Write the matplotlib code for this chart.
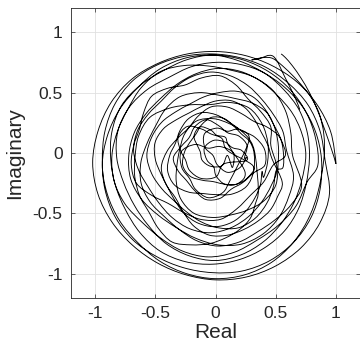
import numpy as np
import matplotlib

matplotlib.use("Agg")
import matplotlib.pyplot as plt
from matplotlib.patches import PathPatch
from matplotlib.path import Path

plt.rcParams["font.family"] = ["Liberation Sans", "DejaVu Sans"]

start_re = [0.545, 0.58, 0.64, 0.71, 0.78, 0.84, 0.89, 0.94, 0.98]
start_im = [0.82, 0.79, 0.72, 0.62, 0.50, 0.37, 0.24, 0.10, -0.02]

# each loop: centre (re, im) and radii sampled evenly counter-clockwise from angle 0
loop_centres = [
    (0.00, -0.08), (-0.03, -0.06), (-0.02, -0.05), (0.00, -0.04),
    (0.02, -0.02), (-0.04, 0.02), (-0.12, 0.06), (0.03, -0.02),
    (0.10, -0.12), (0.00, -0.05), (-0.05, -0.20),
    (-0.05, -0.02), (0.02, 0.00), (-0.12, 0.02), (0.08, -0.06),
    (-0.04, 0.06), (-0.06, -0.12), (0.10, 0.05), (-0.02, -0.04),
    (0.05, -0.10), (0.02, -0.08), (-0.06, -0.02), (0.00, -0.10),
]
loop_radii = [
    [1.00, 0.99, 0.97, 0.95, 0.93, 0.92, 0.92, 0.93, 0.95, 0.98, 1.00, 1.01,
     1.02, 1.01, 0.99, 0.97, 0.96, 0.96, 0.97, 0.98, 0.99, 1.00, 1.00, 0.98],
    [0.94, 0.93, 0.92, 0.90, 0.89, 0.88, 0.88, 0.89, 0.91, 0.93, 0.93, 0.92,
     0.91, 0.92, 0.93, 0.93, 0.92, 0.92, 0.93, 0.95, 0.96, 0.96, 0.95, 0.93],
    [0.90, 0.88, 0.86, 0.84, 0.83, 0.84, 0.86, 0.85, 0.84, 0.86, 0.88, 0.87,
     0.85, 0.84, 0.84, 0.86, 0.88, 0.88, 0.87, 0.86, 0.85, 0.84, 0.82, 0.80],
    [0.78, 0.79, 0.80, 0.80, 0.81, 0.80, 0.79, 0.78, 0.77, 0.80, 0.83, 0.84,
     0.82, 0.79, 0.78, 0.79, 0.82, 0.84, 0.85, 0.83, 0.80, 0.77, 0.75, 0.74],
    [0.73, 0.72, 0.71, 0.70, 0.71, 0.72, 0.72, 0.70, 0.68, 0.67, 0.69, 0.72,
     0.74, 0.75, 0.73, 0.70, 0.69, 0.71, 0.74, 0.76, 0.75, 0.72, 0.68, 0.65],
    [0.63, 0.62, 0.60, 0.60, 0.62, 0.64, 0.65, 0.63, 0.60, 0.58, 0.60, 0.63,
     0.64, 0.62, 0.60, 0.61, 0.64, 0.67, 0.68, 0.66, 0.63, 0.60, 0.58, 0.57],
    [0.58, 0.60, 0.57, 0.55, 0.58, 0.60, 0.56, 0.52, 0.55, 0.58, 0.55, 0.53,
     0.56, 0.60, 0.62, 0.58, 0.55, 0.57, 0.61, 0.63, 0.60, 0.58, 0.60, 0.62],
    [0.55, 0.53, 0.52, 0.54, 0.56, 0.55, 0.52, 0.50, 0.49, 0.51, 0.55, 0.58,
     0.60, 0.58, 0.55, 0.53, 0.54, 0.57, 0.60, 0.62, 0.60, 0.56, 0.52, 0.49],
    [0.46, 0.48, 0.50, 0.47, 0.44, 0.46, 0.50, 0.52, 0.49, 0.46, 0.48, 0.52,
     0.55, 0.53, 0.50, 0.52, 0.56, 0.58, 0.56, 0.53, 0.51, 0.50, 0.48, 0.47],
    [0.47, 0.45, 0.44, 0.46, 0.49, 0.50, 0.48, 0.45, 0.44, 0.46, 0.50, 0.52,
     0.50, 0.47, 0.46, 0.48, 0.52, 0.55, 0.56, 0.54, 0.50, 0.46, 0.43, 0.40],
    [0.45, 0.50, 0.56, 0.62, 0.66, 0.64, 0.60, 0.62, 0.66, 0.70, 0.68, 0.64,
     0.62, 0.60, 0.58, 0.60, 0.62, 0.58, 0.55, 0.52, 0.50, 0.48, 0.44, 0.42],
    [0.38, 0.36, 0.33, 0.32, 0.34, 0.36, 0.35, 0.32, 0.30, 0.33, 0.37, 0.38,
     0.35, 0.32, 0.33, 0.37, 0.40, 0.39],
    [0.30, 0.28, 0.25, 0.26, 0.29, 0.30, 0.27, 0.24, 0.25, 0.28, 0.31, 0.30,
     0.26, 0.24, 0.26, 0.30, 0.32, 0.31],
    [0.22, 0.20, 0.16, 0.18, 0.23, 0.22, 0.17, 0.15, 0.19, 0.23, 0.25, 0.22],
    [0.18, 0.16, 0.12, 0.15, 0.19, 0.20, 0.15, 0.11, 0.15, 0.20, 0.22, 0.19],
    [0.15, 0.14, 0.10, 0.13, 0.18, 0.16, 0.11, 0.10, 0.14, 0.17, 0.19, 0.16],
    [0.20, 0.24, 0.20, 0.16, 0.22, 0.26, 0.22, 0.18, 0.21, 0.25, 0.24, 0.21],
    [0.16, 0.20, 0.17, 0.13, 0.18, 0.22, 0.19, 0.14, 0.17, 0.21, 0.20, 0.18],
    [0.26, 0.30, 0.28, 0.24, 0.27, 0.32, 0.30, 0.26, 0.28, 0.33, 0.31, 0.29,
     0.31, 0.35, 0.34, 0.30, 0.32, 0.36],
    [0.36, 0.38, 0.36, 0.33, 0.35, 0.39, 0.42, 0.40, 0.37, 0.37, 0.40, 0.44,
     0.46, 0.44, 0.42, 0.43, 0.46, 0.48],
    [0.50, 0.52, 0.55, 0.58, 0.57, 0.55, 0.56, 0.60, 0.63, 0.62, 0.60, 0.61,
     0.64, 0.66, 0.65, 0.63, 0.64, 0.67, 0.69, 0.68, 0.66, 0.67, 0.70, 0.72],
    [0.70, 0.71, 0.74, 0.76, 0.75, 0.73, 0.74, 0.77, 0.80, 0.79, 0.77, 0.78,
     0.80, 0.81, 0.80, 0.78, 0.79, 0.82, 0.84, 0.83, 0.81, 0.82, 0.84, 0.85],
    [0.85, 0.86, 0.87, 0.88, 0.89, 0.90, 0.91, 0.92, 0.92, 0.91, 0.92, 0.93,
     0.94, 0.93, 0.92, 0.91, 0.92, 0.93, 0.94, 0.94, 0.93, 0.91, 0.89, 0.88],
]

end_re = [0.90, 0.90, 0.86, 0.78, 0.68, 0.58, 0.48, 0.40, 0.30, 0.36, 0.48, 0.58, 0.66, 0.70]
end_im = [-0.05, 0.15, 0.33, 0.48, 0.60, 0.70, 0.78, 0.79, 0.77, 0.78, 0.80, 0.62, 0.46, 0.36]

x_ticks = [-1, -0.5, 0, 0.5, 1]
y_ticks = [-1, -0.5, 0, 0.5, 1]
tick_labels = ["-1", "-0.5", "0", "0.5", "1"]


def build_points():
    xs = list(start_re)
    ys = list(start_im)
    for (cx, cy), radii in zip(loop_centres, loop_radii):
        r = np.array(radii)
        ang = np.arange(len(r)) * 2 * np.pi / len(r)
        xs.extend(cx + r * np.cos(ang))
        ys.extend(cy + r * np.sin(ang))
    xs.extend(end_re)
    ys.extend(end_im)
    return np.column_stack([xs, ys])


def smooth_path(pts):
    # Catmull-Rom through the points, handed to matplotlib as cubic Bezier segments
    padded = np.vstack([pts[0], pts, pts[-1]])
    verts = [pts[0]]
    codes = [Path.MOVETO]
    for i in range(1, len(padded) - 2):
        p0, p1, p2, p3 = padded[i - 1], padded[i], padded[i + 1], padded[i + 2]
        verts += [p1 + (p2 - p0) / 6, p2 - (p3 - p1) / 6, p2]
        codes += [Path.CURVE4] * 3
    return Path(verts, codes)


def main():
    ink = (0.15, 0.15, 0.15)
    fig = plt.figure(figsize=(3.6, 3.56), dpi=100)
    ax = fig.add_axes([71 / 360, 58 / 356, 289 / 360, 290 / 356])

    path = smooth_path(build_points())
    ax.add_patch(PathPatch(path, facecolor="none", edgecolor="black", linewidth=0.65))

    ax.set_xlim(-1.2, 1.2)
    ax.set_ylim(-1.2, 1.2)
    ax.set_xticks(x_ticks)
    ax.set_yticks(y_ticks)
    ax.set_xticklabels(tick_labels)
    ax.set_yticklabels(tick_labels)
    ax.grid(True, color=(0.88, 0.88, 0.88), linewidth=0.6)
    ax.set_axisbelow(True)
    ax.tick_params(direction="in", length=3, width=0.5, colors=ink,
                   labelsize=12.5, top=True, right=True, pad=6)
    for spine in ax.spines.values():
        spine.set_color(ink)
        spine.set_linewidth(0.6)
    ax.set_xlabel("Real", fontsize=15, color=ink, labelpad=1)
    ax.set_ylabel("Imaginary", fontsize=15, color=ink, labelpad=6)

    fig.savefig("out.png", dpi=100)


if __name__ == "__main__":
    main()
